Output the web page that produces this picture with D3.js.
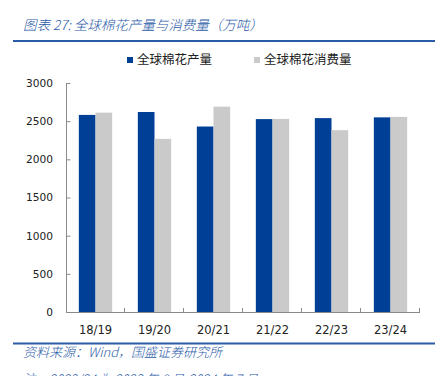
<!DOCTYPE html>
<html>
<head>
<meta charset="utf-8">
<script src="https://cdn.jsdelivr.net/npm/d3@7"></script>
<style>
  body { margin: 0; background: #fff; }
  svg { display: block; }
  text { font-family: "DejaVu Sans", "Noto Sans CJK SC", sans-serif; }
  .cjk { font-family: "Noto Sans CJK SC", sans-serif; }
</style>
</head>
<body>
<div id="chart"></div>
<script>
// data
var seasons = ["18/19", "19/20", "20/21", "21/22", "22/23", "23/24"];
var production = [2582, 2620, 2430, 2527, 2540, 2550];
var consumption = [2612, 2268, 2690, 2530, 2382, 2556];
var seriesNames = ["全球棉花产量", "全球棉花消费量"];
var seriesColors = ["#003f96", "#cacaca"];
var yTicks = [0, 500, 1000, 1500, 2000, 2500, 3000];

var width = 442, height = 376;
var margin = {top: 83, right: 22, bottom: 64, left: 66};
var titleBlue = "#2b5ba8";

var svg = d3.select("#chart").append("svg")
    .attr("width", width)
    .attr("height", height);

// title and rules
svg.append("text")
    .attr("class", "cjk")
    .attr("x", 23)
    .attr("y", 30)
    .attr("fill", titleBlue)
    .style("font-size", "13.5px")
    .style("font-weight", "300")
    .style("font-style", "italic")
    .text("图表 27:  全球棉花产量与消费量（万吨）");

svg.append("line")
    .attr("x1", 13).attr("x2", 435)
    .attr("y1", 41).attr("y2", 41)
    .attr("stroke", titleBlue)
    .attr("stroke-width", 2);

svg.append("line")
    .attr("x1", 13).attr("x2", 435)
    .attr("y1", 343.5).attr("y2", 343.5)
    .attr("stroke", titleBlue)
    .attr("stroke-width", 2);

svg.append("text")
    .attr("class", "cjk")
    .attr("x", 23)
    .attr("y", 357)
    .attr("fill", titleBlue)
    .style("font-size", "13px")
    .style("font-weight", "300")
    .style("font-style", "italic")
    .text("资料来源：Wind，国盛证券研究所");

// note line, mostly below the visible area as in the reference
svg.append("text")
    .attr("class", "cjk")
    .attr("x", 23)
    .attr("y", 384)
    .attr("fill", titleBlue)
    .style("font-size", "13px")
    .style("font-weight", "300")
    .style("font-style", "italic")
    .text("注：2023/24 为 2023 年 8 月-2024 年 7 月");

// legend
var legendX = [127, 254];
var legend = svg.selectAll(".legend")
    .data(seriesNames)
    .enter().append("g")
    .attr("class", "legend")
    .attr("transform", function(d, i) { return "translate(" + legendX[i] + ",57)"; });

legend.append("rect")
    .attr("width", 6).attr("height", 6)
    .attr("fill", function(d, i) { return seriesColors[i]; });

legend.append("text")
    .attr("class", "cjk")
    .attr("x", 10)
    .attr("y", 3)
    .attr("dy", "0.35em")
    .attr("fill", "#222")
    .style("font-size", "12.5px")
    .text(function(d) { return d; });

// scales
var x0 = d3.scaleBand()
    .domain(seasons)
    .range([margin.left, width - margin.right])
    .padding(0);

var x1 = d3.scaleBand()
    .domain([0, 1])
    .range([0, x0.bandwidth()])
    .paddingInner(0)
    .paddingOuter(0.77);

var y = d3.scaleLinear()
    .domain([0, 3000])
    .range([height - margin.bottom, margin.top]);

var rows = seasons.map(function(s, i) {
    return {season: s, values: [production[i], consumption[i]]};
});

// bars
var groups = svg.selectAll(".group")
    .data(rows)
    .enter().append("g")
    .attr("class", "group")
    .attr("transform", function(d) { return "translate(" + x0(d.season) + ",0)"; });

groups.selectAll("rect")
    .data(function(d) { return d.values; })
    .enter().append("rect")
    .attr("x", function(d, i) { return x1(i); })
    .attr("width", x1.bandwidth())
    .attr("y", function(d) { return y(d); })
    .attr("height", function(d) { return y(0) - y(d); })
    .attr("fill", function(d, i) { return seriesColors[i]; });

// y axis
var axisColor = "#8a8a8a";
var yAxis = d3.axisLeft(y)
    .tickValues(yTicks)
    .tickSize(-4)
    .tickPadding(13)
    .tickFormat(d3.format("d"));

var gy = svg.append("g")
    .attr("transform", "translate(" + margin.left + ",0)")
    .call(yAxis);
gy.select(".domain").attr("stroke", axisColor).attr("d", "M0.5," + y(3000) + "V" + (y(0) + 0.5));
gy.selectAll(".tick line").attr("stroke", axisColor).attr("transform", "translate(0.5,0)");
gy.selectAll(".tick text").attr("fill", "#222").style("font-size", "10.6px");

// x axis
var xAxis = d3.axisBottom(x0)
    .tickSize(0)
    .tickPadding(14);

var gx = svg.append("g")
    .attr("transform", "translate(0," + y(0) + ")")
    .call(xAxis);
gx.select(".domain").attr("stroke", axisColor).attr("d", "M" + margin.left + ",0.5H" + (width - margin.right));
gx.selectAll(".tick text").attr("fill", "#222").style("font-size", "11.5px");

// category boundary ticks, pointing up into the plot
var bounds = seasons.map(function(s) { return x0(s); }).concat([x0.range()[1]]);
gx.selectAll(".bound")
    .data(bounds.slice(1))
    .enter().append("line")
    .attr("class", "bound")
    .attr("x1", function(d) { return d - 0.5; })
    .attr("x2", function(d) { return d - 0.5; })
    .attr("y1", 0.5)
    .attr("y2", -4)
    .attr("stroke", axisColor);
</script>
</body>
</html>
